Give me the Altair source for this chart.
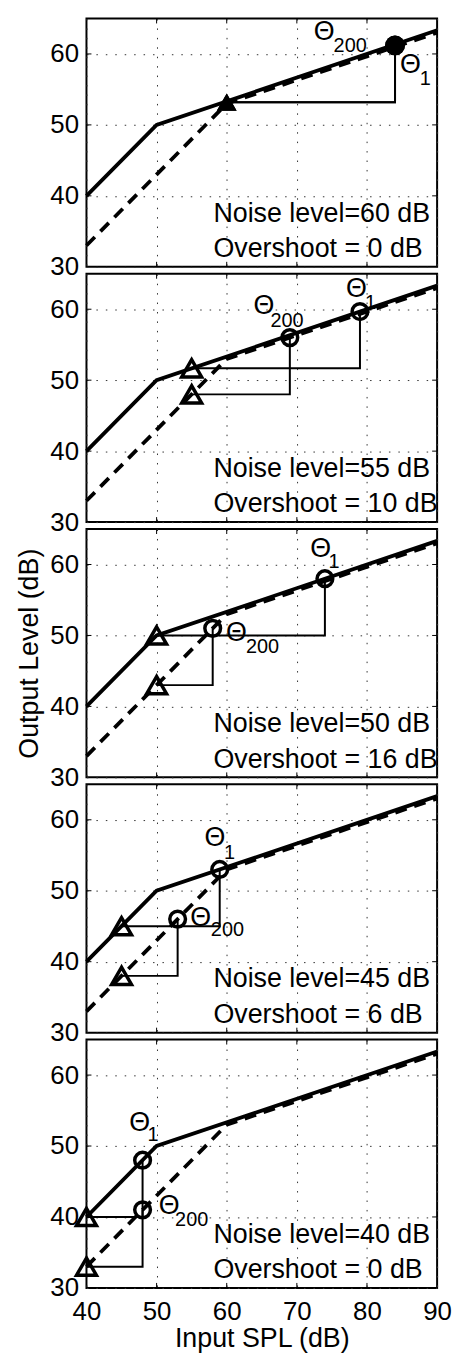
import altair as alt
import pandas as pd

# ---------------- data ----------------
x_ticks = [40, 50, 60, 70, 80, 90]
y_ticks = [30, 40, 50, 60]
inner_x_ticks = [50, 60, 70, 80]
inner_y_ticks = [40, 50, 60]

# input/output curves (solid = with processing, dashed = reference)
solid_x = [40, 50, 90]
solid_y = [40, 50, 63.33]
dashed_x = [40, 60, 90]
dashed_y = [33, 53, 63]

# one entry per panel (top to bottom)
noise_levels = [60, 55, 50, 45, 40]
overshoots = [0, 10, 16, 6, 0]

tri_x = [60, 55, 50, 45, 40]
tri_solid_y = [53.2, 51.67, 50, 45, 40]
tri_dashed_y = [53.2, 48, 43, 38, 33]

theta1_x = [84, 79, 74, 59, 48]
theta1_y = [61.2, 59.67, 58, 53, 48]
theta200_x = [84, 69, 58, 53, 48]
theta200_y = [61.2, 56, 51, 46, 41]

# label anchor points (data units)
theta1_lbl_x = [86.2, 78.5, 73.4, 58.3, 47.6]
theta1_lbl_y = [58.4, 62.9, 62.2, 57.4, 53.2]
theta1_sub_x = [88.3, 80.5, 75.3, 60.4, 49.5]
theta1_sub_y = [56.5, 60.9, 60.3, 55.3, 51.5]
theta200_lbl_x = [73.9, 65.3, 61.4, 56.3, 51.8]
theta200_lbl_y = [63.05, 60.4, 50.3, 46.2, 41.5]
theta200_sub_x = [77.6, 68.6, 65.1, 60.1, 55.0]
theta200_sub_y = [61.1, 58.3, 48.4, 44.5, 39.6]

info_x = 58.1
info_y = [37.5, 32.5]

# ---------------- chart ----------------
FONT = "Liberation Sans"
W, H = 353, 250
xs = alt.Scale(domain=[40, 90], nice=False, zero=False)
ys = alt.Scale(domain=[30, 65], nice=False, zero=False)

grid_style = dict(grid=True, gridColor="#333333", gridDash=[1.5, 8], gridWidth=1,
                  domain=False, ticks=False, tickSize=0)


def make_panel(i):
    bottom = i == 4
    middle = i == 2
    if bottom:
        x_axis = alt.Axis(values=x_ticks, labels=True, labelFlush=False, labelFontSize=26,
                          labelPadding=11, labelColor="black", labelFont=FONT,
                          title="Input SPL (dB)", titleFontSize=27, titleFontWeight="normal",
                          titlePadding=1, titleColor="black", titleFont=FONT, **grid_style)
    else:
        x_axis = alt.Axis(values=x_ticks, labels=False, title=None, **grid_style)
    if middle:
        y_axis = alt.Axis(values=y_ticks, labels=True, labelFontSize=26, labelPadding=8,
                          labelColor="black", labelFont=FONT,
                          title="Output Level (dB)", titleFontSize=27, titleFontWeight="normal",
                          titlePadding=6, titleColor="black", titleFont=FONT, **grid_style)
    else:
        y_axis = alt.Axis(values=y_ticks, labels=True, labelFontSize=26, labelPadding=8,
                          labelColor="black", labelFont=FONT, title=None, **grid_style)

    def X(f):
        return alt.X(f"{f}:Q", scale=xs, axis=x_axis)

    def Y(f):
        return alt.Y(f"{f}:Q", scale=ys, axis=y_axis)

    solid_df = pd.DataFrame({"x": solid_x, "y": solid_y})
    dashed_df = pd.DataFrame({"x": dashed_x, "y": dashed_y})

    solid = alt.Chart(solid_df).mark_line(color="black", strokeWidth=3.8).encode(x=X("x"), y=Y("y"))
    dashed = alt.Chart(dashed_df).mark_line(color="black", strokeWidth=3.8,
                                            strokeDash=[12, 8]).encode(x=X("x"), y=Y("y"))

    conn_rows = [
        {"seg": "a", "o": 0, "x": tri_x[i], "y": tri_solid_y[i]},
        {"seg": "a", "o": 1, "x": theta1_x[i], "y": tri_solid_y[i]},
        {"seg": "a", "o": 2, "x": theta1_x[i], "y": theta1_y[i]},
        {"seg": "b", "o": 0, "x": tri_x[i], "y": tri_dashed_y[i]},
        {"seg": "b", "o": 1, "x": theta200_x[i], "y": tri_dashed_y[i]},
        {"seg": "b", "o": 2, "x": theta200_x[i], "y": theta200_y[i]},
    ]
    conn = alt.Chart(pd.DataFrame(conn_rows)).mark_line(color="black", strokeWidth=2).encode(
        x=X("x"), y=Y("y"), detail="seg:N", order="o:Q")

    # markers that sit on top of each other read as one solid blob in the reference
    tri_merged = abs(tri_solid_y[i] - tri_dashed_y[i]) < 1
    circ_merged = (abs(theta1_x[i] - theta200_x[i]) < 1) and (abs(theta1_y[i] - theta200_y[i]) < 1)

    tri_df = pd.DataFrame({"x": [tri_x[i], tri_x[i]], "y": [tri_solid_y[i], tri_dashed_y[i]]})
    tris = alt.Chart(tri_df).mark_point(shape="triangle-up", filled=tri_merged, size=400,
                                        strokeWidth=3.5, color="black", opacity=1).encode(
        x=X("x"), y=Y("y"))
    circ_df = pd.DataFrame({"x": [theta1_x[i], theta200_x[i]], "y": [theta1_y[i], theta200_y[i]]})
    circs = alt.Chart(circ_df).mark_point(shape="circle", filled=circ_merged,
                                          size=400 if circ_merged else 250,
                                          strokeWidth=3.5, color="black", opacity=1).encode(
        x=X("x"), y=Y("y"))

    # border ticks (inward)
    xt_df = pd.DataFrame({"x": inner_x_ticks})
    yt_df = pd.DataFrame({"y": inner_y_ticks})
    tick_b = alt.Chart(xt_df).mark_rule(color="black", strokeWidth=1).encode(
        x=X("x"), y=alt.value(H), y2=alt.value(H - 5))
    tick_t = alt.Chart(xt_df).mark_rule(color="black", strokeWidth=1).encode(
        x=X("x"), y=alt.value(0), y2=alt.value(5))
    tick_l = alt.Chart(yt_df).mark_rule(color="black", strokeWidth=1).encode(
        y=Y("y"), x=alt.value(0), x2=alt.value(5))
    tick_r = alt.Chart(yt_df).mark_rule(color="black", strokeWidth=1).encode(
        y=Y("y"), x=alt.value(W), x2=alt.value(W - 5))

    theta_df = pd.DataFrame({"x": [theta1_lbl_x[i], theta200_lbl_x[i]],
                             "y": [theta1_lbl_y[i], theta200_lbl_y[i]],
                             "t": ["\u0398", "\u0398"]})
    sub_df = pd.DataFrame({"x": [theta1_sub_x[i], theta200_sub_x[i]],
                           "y": [theta1_sub_y[i], theta200_sub_y[i]],
                           "t": ["1", "200"]})
    theta_txt = alt.Chart(theta_df).mark_text(fontSize=27, font=FONT, color="black",
                                              align="center", baseline="middle").encode(
        x=X("x"), y=Y("y"), text="t:N")
    sub_txt = alt.Chart(sub_df).mark_text(fontSize=20, font=FONT, color="black",
                                          align="center", baseline="middle").encode(
        x=X("x"), y=Y("y"), text="t:N")

    info_df = pd.DataFrame({"x": [info_x, info_x], "y": info_y,
                            "t": [f"Noise level={noise_levels[i]} dB",
                                  f"Overshoot = {overshoots[i]} dB"]})
    info = alt.Chart(info_df).mark_text(fontSize=27, font=FONT, color="black",
                                        align="left", baseline="middle").encode(
        x=X("x"), y=Y("y"), text="t:N")

    return alt.layer(tick_b, tick_t, tick_l, tick_r, conn, dashed, solid, tris, circs,
                     theta_txt, sub_txt, info).properties(width=W, height=H)


panels = [make_panel(i) for i in range(5)]

chart = alt.vconcat(*panels, spacing=7, bounds="flush").properties(
    padding={"left": 7, "top": 4, "right": 0, "bottom": 0}
).configure(font=FONT).configure_view(stroke="black", strokeWidth=2)

chart.save("out.html", embed_options={"renderer": "svg", "actions": False})
